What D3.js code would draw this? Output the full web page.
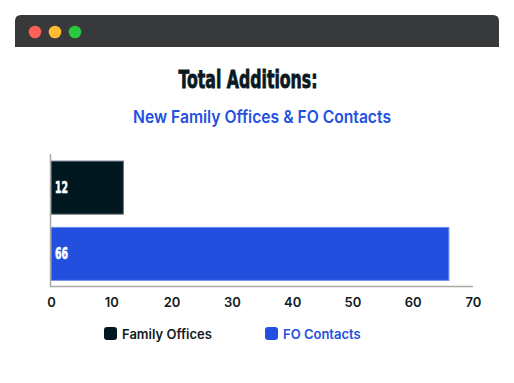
<!DOCTYPE html>
<html><head><meta charset="utf-8">
<script src="https://cdn.jsdelivr.net/npm/d3@7"></script>
<style>
html,body{margin:0;padding:0;background:#fff;}
svg{display:block;}
</style></head>
<body>
<svg id="c" width="514" height="383"></svg>
<script>
const categories = ["Family Offices", "FO Contacts"];
const values = [12, 66];
const colors = ["#021820", "#234fdf"];
const xTicks = [0, 10, 20, 30, 40, 50, 60, 70];
const titleText = "Total Additions:";
const subtitleText = "New Family Offices & FO Contacts";

const svg = d3.select("#c");

// window frame
const frame = svg.append("g");
frame.append("path")
  .attr("d", "M15,47 L15,21 Q15,15 21,15 L493,15 Q499,15 499,21 L499,47 Z")
  .attr("fill", "#38393b");
[["#fe5f57",35],["#febc2e",55],["#28c840",75]].forEach(([c,x])=>{
  frame.append("circle").attr("cx",x).attr("cy",32).attr("r",6.3).attr("fill",c);
});

// titles
svg.append("text").text(titleText)
  .attr("x", 248).attr("y", 88).attr("text-anchor","middle")
  .attr("font-family","'Liberation Sans Narrow','DejaVu Sans Condensed','Liberation Sans',sans-serif")
  .attr("font-weight","bold").attr("font-size",25).attr("fill","#0a1a22")
  .attr("stroke","#0a1a22").attr("stroke-width",0.8)
  .attr("textLength",139).attr("lengthAdjust","spacingAndGlyphs");
svg.append("text").text(subtitleText)
  .attr("x", 262).attr("y", 123).attr("text-anchor","middle")
  .attr("font-family","Inter,'Noto Sans',sans-serif")
  .attr("font-weight",600).attr("font-size",17).attr("fill","#2350e0")
  .attr("textLength",258).attr("lengthAdjust","spacingAndGlyphs");

const x = d3.scaleLinear().domain([0,70]).range([51,473]);
const y = d3.scaleBand().domain(categories).range([154.5,287]).paddingInner(0.2).paddingOuter(0.1);

// bars
svg.selectAll("rect.bar").data(categories).join("rect")
  .attr("class","bar")
  .attr("x", x(0))
  .attr("y", d=>y(d))
  .attr("width", (d,i)=>x(values[i])-x(0))
  .attr("height", y.bandwidth())
  .attr("fill", (d,i)=>colors[i])
  .attr("stroke", (d,i)=> i===0 ? "#5a6670" : "#6f8ff0")
  .attr("stroke-width", 1);

svg.selectAll("text.vl").data(categories).join("text")
  .attr("class","vl")
  .attr("x", 55)
  .attr("y", d=>y(d)+y.bandwidth()/2+5.5)
  .attr("font-family","'Liberation Sans Narrow','DejaVu Sans Condensed',sans-serif")
  .attr("font-weight","bold").attr("font-size",16).attr("fill","#fff")
  .attr("stroke","#fff").attr("stroke-width",0.6)
  .attr("textLength",13).attr("lengthAdjust","spacingAndGlyphs")
  .text((d,i)=>values[i]);

// axes lines
svg.append("line").attr("x1",50.5).attr("x2",50.5).attr("y1",154).attr("y2",287)
  .attr("stroke","#a8a8a8").attr("stroke-width",1.5);
svg.append("line").attr("x1",50).attr("x2",473).attr("y1",286.5).attr("y2",286.5)
  .attr("stroke","#a8a8a8").attr("stroke-width",1.5);

// x axis ticks
const ax = svg.append("g").attr("transform","translate(0,292)")
  .call(d3.axisBottom(x).tickValues(xTicks).tickSize(0).tickPadding(0));
ax.select(".domain").remove();
ax.selectAll("text")
  .attr("dy", "0.71em").attr("y", 6)
  .attr("font-family","Inter,'Noto Sans',sans-serif")
  .attr("font-weight",600).attr("font-size",13).attr("fill","#111a20");

// legend
const legX = [104, 265];
const leg = svg.selectAll("g.leg").data(categories).join("g")
  .attr("class","leg")
  .attr("transform",(d,i)=>`translate(${legX[i]},327)`);
leg.append("rect").attr("width",13).attr("height",13).attr("rx",3)
  .attr("fill",(d,i)=>colors[i]);
leg.append("text").attr("x",18).attr("y",11.5)
  .attr("font-family","Inter,'Noto Sans',sans-serif")
  .attr("font-weight",600).attr("font-size",13)
  .attr("fill",(d,i)=> i===0 ? "#111a20" : "#234fdf")
  .text(d=>d);
</script>
</body></html>
